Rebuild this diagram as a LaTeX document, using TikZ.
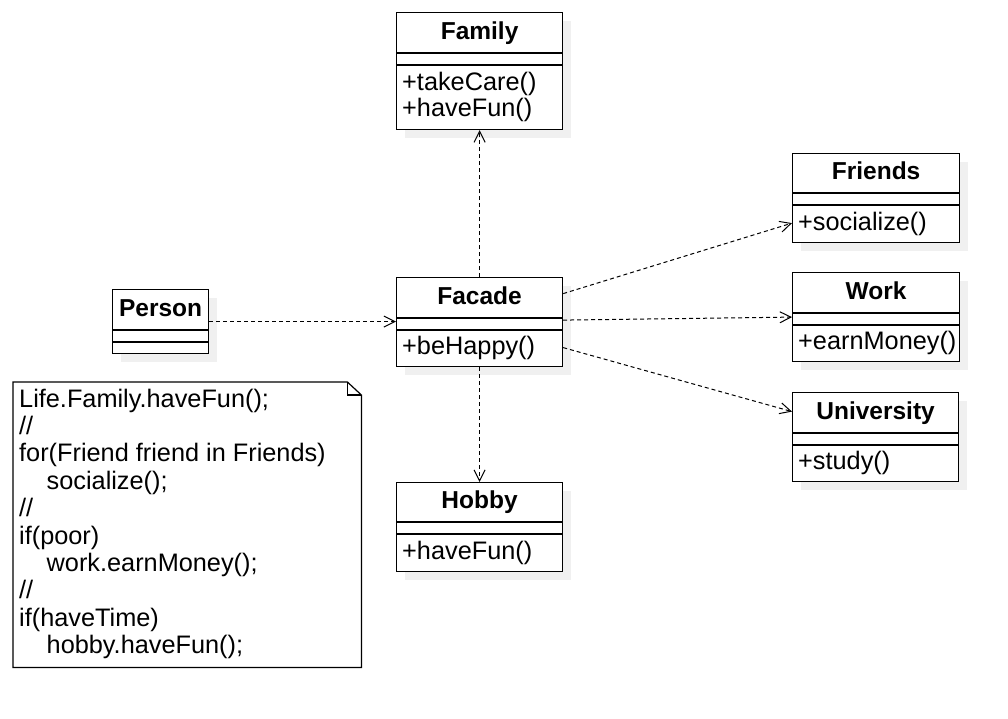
\documentclass[tikz,border=0pt]{standalone}
\usepackage{fontspec}
\setmainfont{Liberation Sans}
\usetikzlibrary{arrows.meta,shadows,calc}
\newcommand\umlcls[9]{%
  % #1 name, #2 x, #3 y, #4 width, #5 title h, #6 attr h, #7 methods h, #8 title, #9 methods
  \node[classbox, minimum width=#4pt, minimum height={#5pt+#6pt+#7pt}, anchor=north west] (#1) at (#2,#3) {};
  \draw[divline] ([yshift=-#5pt]#1.north west) -- ([yshift=-#5pt]#1.north east);
  \draw[divline] ([yshift={-#5pt-#6pt}]#1.north west) -- ([yshift={-#5pt-#6pt}]#1.north east);
  \node[titletext] (#1-title) at ([yshift={-#5pt/2}]#1.north) {#8};
  \node[methtext, anchor=west] (#1-methods) at ([xshift=6pt, yshift={-#5pt-#6pt-#7pt/2}]#1.north west) {#9};
}
\tikzset{
  classbox/.style={draw=black, fill=white, line width=1.2pt, inner sep=0pt,
    drop shadow={shadow xshift=8pt, shadow yshift=-8pt, fill=black!6, opacity=1}},
  divline/.style={draw=black, line width=1.2pt},
  titletext/.style={font=\fontsize{24.5}{27}\selectfont\bfseries, inner sep=0pt, text height=18pt, text depth=5pt},
  methtext/.style={font=\fontsize{25.3}{26}\selectfont, inner sep=0pt, align=left},
  notetext/.style={font=\fontsize{25.3}{27.4}\selectfont, inner sep=0pt, align=left},
  noteline/.style={draw=black, line width=1.2pt, line join=miter},
  dep/.style={draw=black, line width=1pt, dash pattern=on 4pt off 3pt, -{Straight Barb[length=11pt,width=11pt,line width=1pt]}},
}
\begin{document}
\begin{tikzpicture}[x=1pt,y=-1pt]
\useasboundingbox[fill=white] (0,0) rectangle (1008,718);

\umlcls{family}{396}{12}{166}{41}{12}{64}{Family}{+takeCare()\\+haveFun()}
\umlcls{friends}{792}{153}{167}{40}{12}{37}{Friends}{+socialize()}
\umlcls{work}{792}{272}{167}{41}{12}{36}{Work}{+earnMoney()}
\umlcls{facade}{396}{277}{166}{41}{12}{36}{Facade}{+beHappy()}
\umlcls{university}{792}{392}{166}{41}{12}{36}{University}{+study()}
\umlcls{hobby}{396}{482}{166}{40}{12}{37}{Hobby}{+haveFun()}
\umlcls{person}{112}{289}{96}{41}{12}{11}{Person}{}

% note
\node[minimum width=348pt, minimum height=285pt, anchor=north west, inner sep=0pt] (note) at (13,382) {};
\draw[noteline, fill=white] (note.north west) -- ([xshift=-14pt]note.north east) -- ([yshift=-13pt]note.north east) -- (note.south east) -- (note.south west) -- cycle;
\draw[noteline] ([xshift=-14pt]note.north east) -- ([xshift=-14pt,yshift=-13pt]note.north east) -- ([yshift=-13pt]note.north east);
\node[notetext, anchor=north west] (note-text) at (19,388.5) {Life.Family.haveFun();\\//\\for(Friend friend in Friends)\\\hspace*{27.5pt}socialize();\\//\\if(poor)\\\hspace*{27.5pt}work.earnMoney();\\//\\if(haveTime)\\\hspace*{27.5pt}hobby.haveFun();};

% connectors
\draw[dep] (person.east) -- (person.east -| facade.west);
\draw[dep] (facade.north) -- (family.south);
\draw[dep] (facade.south) -- (hobby.north);
\draw[dep] ([yshift=28.5pt]facade.east) -- ([yshift=-25pt]friends.west);
\draw[dep] ([yshift=2pt]facade.east) -- (work.west);
\draw[dep] ([yshift=-25.5pt]facade.east) -- ([yshift=25.5pt]university.west);
\end{tikzpicture}
\end{document}
